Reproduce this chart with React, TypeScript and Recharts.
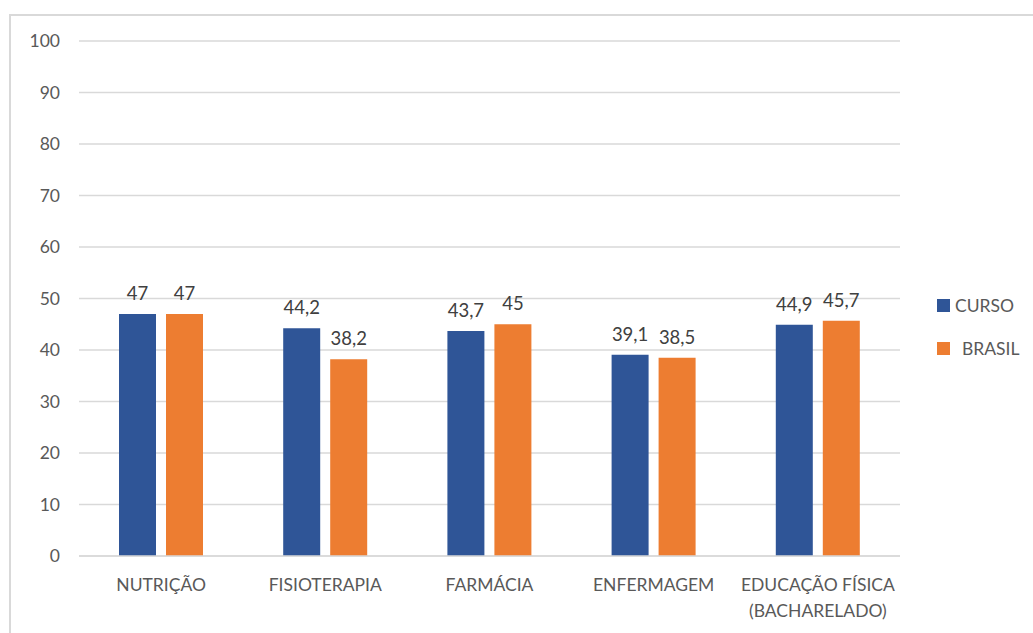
import React from 'react';
import { BarChart, Bar, XAxis, YAxis, CartesianGrid, Legend, LabelList } from 'recharts';

const categories = ['NUTRIÇÃO', 'FISIOTERAPIA', 'FARMÁCIA', 'ENFERMAGEM', 'EDUCAÇÃO FÍSICA\n(BACHARELADO)'];
const curso = [47, 44.2, 43.7, 39.1, 44.9];
const brasil = [47, 38.2, 45, 38.5, 45.7];
const yTicks = [0, 10, 20, 30, 40, 50, 60, 70, 80, 90, 100];

const BLUE = '#2F5597';
const ORANGE = '#ED7D31';
const FONT = 'Lato, "Open Sans", sans-serif';

const data = categories.map((name, i) => ({ name, curso: curso[i], brasil: brasil[i] }));

const fmt = (v: any) => String(v).replace('.', ',');

function CategoryTick({ x, y, payload }: any) {
  const lines = String(payload.value).split('\n');
  return (
    <text x={x} y={y} textAnchor="middle" fill="#595959" fontSize={17.5} fontFamily={FONT}>
      {lines.map((l, i) => (
        <tspan key={i} x={x} dy={i === 0 ? 27 : 26}>{l}</tspan>
      ))}
    </text>
  );
}

function LegendBox() {
  const items = [
    { label: 'CURSO', color: BLUE, top: 0, gap: 5 },
    { label: 'BRASIL', color: ORANGE, top: 43, gap: 12 },
  ];
  return (
    <div style={{ position: 'relative', width: 100, height: 70, fontFamily: FONT }}>
      {items.map(it => (
        <div key={it.label} style={{ position: 'absolute', left: 0, top: it.top, display: 'flex', alignItems: 'center' }}>
          <span style={{ width: 13, height: 13, background: it.color, display: 'inline-block', marginRight: it.gap }} />
          <span style={{ fontSize: 17.5, color: '#595959' }}>{it.label}</span>
        </div>
      ))}
    </div>
  );
}

export default function App() {
  return (
    <div style={{ position: 'fixed', left: 0, top: 0, width: 1033, height: 633, background: '#fff', overflow: 'hidden' }}>
      <div style={{ position: 'absolute', left: 9, top: 14, width: 1030, height: 625, borderTop: '2px solid #d9d9d9', borderLeft: '2px solid #d9d9d9' }} />
      <div style={{ position: 'absolute', left: 0, top: 0 }}>
        <BarChart
          width={1033}
          height={633}
          data={data}
          margin={{ top: 41, right: 33, bottom: 0, left: 0 }}
          barSize={37}
          barGap={10}
        >
          <CartesianGrid vertical={false} stroke="#d9d9d9" strokeWidth={1.5} />
          <XAxis
            dataKey="name"
            height={77}
            tickLine={false}
            axisLine={{ stroke: '#d9d9d9', strokeWidth: 1.5 }}
            tick={<CategoryTick />}
            interval={0}
          />
          <YAxis
            width={79}
            domain={[0, 100]}
            ticks={yTicks}
            tickLine={false}
            axisLine={false}
            tickMargin={13}
            tick={{ fill: '#595959', fontSize: 17.5, fontFamily: FONT }}
          />
          <Legend
            layout="horizontal"
            verticalAlign="middle"
            align="right"
            wrapperStyle={{ position: 'absolute', left: 937, top: 295, width: 100 }}
            content={() => <LegendBox />}
          />
          <Bar dataKey="curso" name="CURSO" fill={BLUE} isAnimationActive={false}>
            <LabelList dataKey="curso" position="top" offset={14} formatter={fmt} fill="#404040" fontSize={18.5} fontFamily={FONT} />
          </Bar>
          <Bar dataKey="brasil" name="BRASIL" fill={ORANGE} isAnimationActive={false}>
            <LabelList dataKey="brasil" position="top" offset={14} formatter={fmt} fill="#404040" fontSize={18.5} fontFamily={FONT} />
          </Bar>
        </BarChart>
      </div>
    </div>
  );
}
